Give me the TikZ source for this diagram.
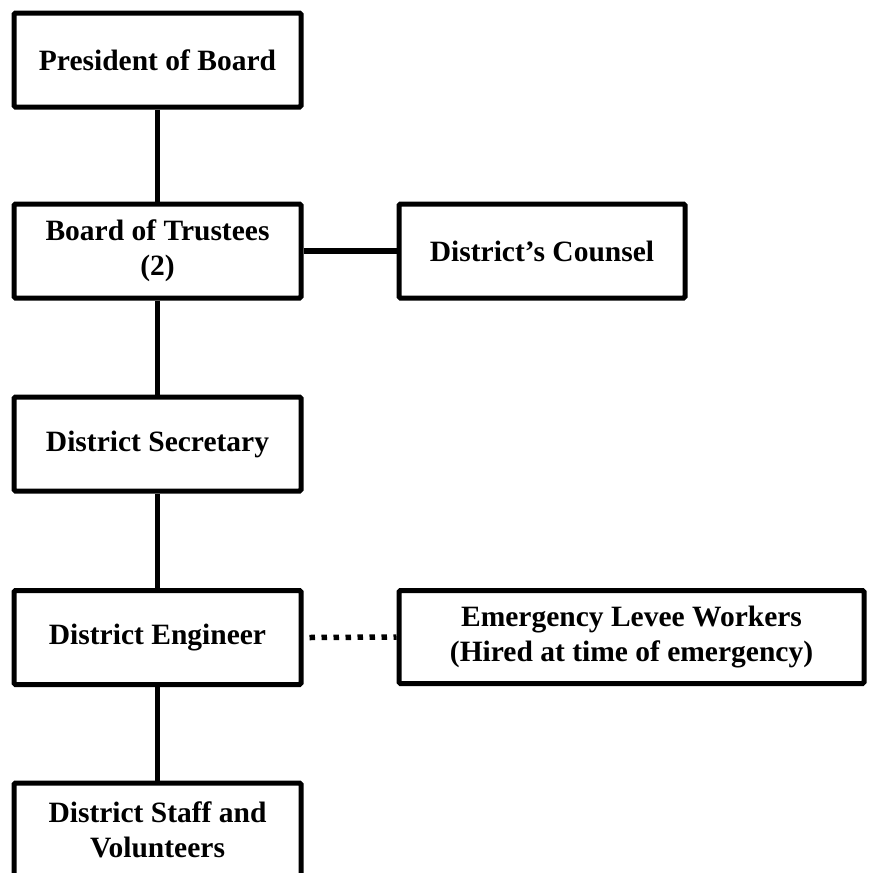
\documentclass[tikz,border=0pt]{standalone}
\usepackage{fontspec}
\setmainfont{Liberation Serif}
\begin{document}
\begin{tikzpicture}[x=1pt,y=-1pt,
  box/.style={draw=black,line width=5pt,rounded corners=1.5pt,minimum height=94pt,inner sep=0pt,align=center,
    font=\fontsize{29.5}{35}\selectfont\bfseries},
  conn/.style={line width=5.5pt},
  dotconn/.style={line width=5.5pt,dash pattern=on 5.5pt off 6.5pt}]
\useasboundingbox (0,0) rectangle (868,873);
\node[box,minimum width=287pt] (pres) at (157.5,60) {President of Board};
\node[box,minimum width=287pt] (board) at (157.5,251) {Board of Trustees\\(2)};
\node[box,minimum width=286pt] (counsel) at (542,251) {District’s Counsel};
\node[box,minimum width=287pt] (sec) at (157.5,444) {District Secretary};
\node[box,minimum width=287pt] (eng) at (157.5,637.5) {District Engineer};
\node[box,minimum width=465pt,minimum height=93pt] (emer) at (631.5,637) {Emergency Levee Workers\\(Hired at time of emergency)};
\node[box,minimum width=287pt] (staff) at (157.5,830) {District Staff and\\Volunteers};
\draw[conn] (pres.south) -- (board.north);
\draw[conn] (board.south) -- (sec.north);
\draw[conn] (sec.south) -- (eng.north);
\draw[conn] (eng.south) -- (staff.north);
\draw[conn] (board.east) -- (counsel.west);
\draw[dotconn] ([xshift=6pt]eng.east) -- (emer.west);
\end{tikzpicture}
\end{document}
